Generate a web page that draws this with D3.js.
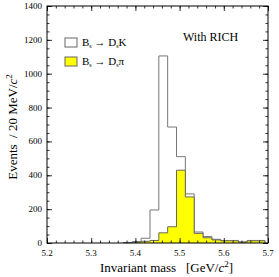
<!DOCTYPE html>
<html>
<head>
<meta charset="utf-8">
<script src="https://cdn.jsdelivr.net/npm/d3@7"></script>
<style>
  body { margin: 0; background: #fff; }
  text { font-family: "Liberation Serif", "Times New Roman", serif; fill: #000; }
</style>
</head>
<body>
<script>
// bin edges (GeV/c^2) and contents per 20 MeV bin
var binEdges = [5.373, 5.393, 5.413, 5.433, 5.453, 5.473, 5.493, 5.513, 5.533,
  5.553, 5.573, 5.593, 5.613, 5.633, 5.653, 5.673, 5.693];
var dsK = [3, 8, 28, 195, 1105, 685, 510, 290, 65, 38, 22, 15, 15, 6, 15, 15];
var dsPi = [2, 5, 10, 15, 60, 96, 430, 272, 57, 31, 18, 13, 13, 5, 13, 13];

var xTicks = [5.2, 5.3, 5.4, 5.5, 5.6, 5.7];
var yTicks = [0, 200, 400, 600, 800, 1000, 1200, 1400];

var w = 279, h = 277;
var plotL = 47, plotR = 268, plotT = 6, plotB = 243;

var svg = d3.select("body").append("svg")
  .attr("width", w)
  .attr("height", h);

var x = d3.scaleLinear().domain([5.2, 5.7]).range([plotL, plotR]);
var y = d3.scaleLinear().domain([0, 1400]).range([plotB, plotT]);

// step outline of a histogram, closed on the baseline
function histPath(vals) {
  var pts = [[binEdges[0], 0]];
  vals.forEach(function (v, i) {
    pts.push([binEdges[i], v]);
    pts.push([binEdges[i + 1], v]);
  });
  pts.push([binEdges[binEdges.length - 1], 0]);
  return d3.line().x(d => x(d[0])).y(d => y(d[1]))(pts);
}

svg.append("path")
  .attr("d", histPath(dsK))
  .attr("fill", "#fff")
  .attr("stroke", "#777")
  .attr("stroke-width", 1);

svg.append("path")
  .attr("d", histPath(dsPi))
  .attr("fill", "#ffff00")
  .attr("stroke", "#666")
  .attr("stroke-width", 1);

// frame with ticks on all four sides, pointing inwards
var xMinor = d3.range(5.2, 5.7001, 0.02);
var yMinor = d3.range(0, 1400.1, 50);

function addAxis(axis, transform, ticks, len) {
  var g = svg.append("g").attr("transform", transform)
    .call(axis.tickValues(ticks).tickSize(len).tickFormat(""));
  g.select(".domain").remove();
  g.selectAll("line").attr("stroke", "#000").attr("stroke-width", 0.8);
  return g;
}

addAxis(d3.axisTop(x), `translate(0,${plotB})`, xMinor, 2.5);
addAxis(d3.axisTop(x), `translate(0,${plotB})`, xTicks, 5);
addAxis(d3.axisBottom(x), `translate(0,${plotT})`, xMinor, 2.5);
addAxis(d3.axisBottom(x), `translate(0,${plotT})`, xTicks, 5);
addAxis(d3.axisRight(y), `translate(${plotL},0)`, yMinor, 2.5);
addAxis(d3.axisRight(y), `translate(${plotL},0)`, yTicks, 5);
addAxis(d3.axisLeft(y), `translate(${plotR},0)`, yMinor, 2.5);
addAxis(d3.axisLeft(y), `translate(${plotR},0)`, yTicks, 5);

svg.append("rect")
  .attr("x", plotL).attr("y", plotT)
  .attr("width", plotR - plotL).attr("height", plotB - plotT)
  .attr("fill", "none").attr("stroke", "#000").attr("stroke-width", 1);

// tick labels
svg.selectAll(".xlab").data(xTicks).enter().append("text")
  .attr("class", "xlab")
  .attr("x", d => x(d))
  .attr("y", plotB + 13)
  .attr("text-anchor", "middle")
  .attr("font-size", 9)
  .text(d => d.toFixed(1));

svg.selectAll(".ylab").data(yTicks).enter().append("text")
  .attr("class", "ylab")
  .attr("x", plotL - 5)
  .attr("y", d => y(d) + 3)
  .attr("text-anchor", "end")
  .attr("font-size", 9)
  .text(d => d);

// axis titles
var xt = svg.append("text")
  .attr("x", 100).attr("y", 272)
  .attr("font-size", 13)
  .attr("xml:space", "preserve");
xt.append("tspan").text("Invariant mass   [GeV/");
xt.append("tspan").attr("font-style", "italic").text("c");
xt.append("tspan").attr("font-size", 9).attr("dy", -5).text("2");
xt.append("tspan").attr("dy", 5).text("]");

var yt = svg.append("text")
  .attr("transform", "translate(17,127) rotate(-90)")
  .attr("text-anchor", "middle")
  .attr("font-size", 13)
  .attr("xml:space", "preserve");
yt.append("tspan").text("Events  / 20 MeV/");
yt.append("tspan").attr("font-style", "italic").text("c");
yt.append("tspan").attr("font-size", 9).attr("dy", -5).text("2");

// legend
var legend = [
  { fill: "#fff", b: "K" },
  { fill: "#ffff00", b: "\u03c0" }
];
legend.forEach(function (d, i) {
  var ly = 38 + i * 19;
  svg.append("rect")
    .attr("x", 65).attr("y", ly)
    .attr("width", 12).attr("height", 9)
    .attr("fill", d.fill).attr("stroke", "#666").attr("stroke-width", 1);
  var t = svg.append("text")
    .attr("x", 82).attr("y", ly + 8)
    .attr("font-size", 11);
  t.append("tspan").text("B");
  t.append("tspan").attr("font-size", 6).attr("dy", 2).text("s");
  t.append("tspan").attr("dy", -2).text(" \u2192 D");
  t.append("tspan").attr("font-size", 6).attr("dy", 2).text("s");
  t.append("tspan").attr("dy", -2).text(d.b);
});

svg.append("text")
  .attr("x", 183).attr("y", 41)
  .attr("font-size", 12)
  .text("With RICH");
</script>
</body>
</html>
